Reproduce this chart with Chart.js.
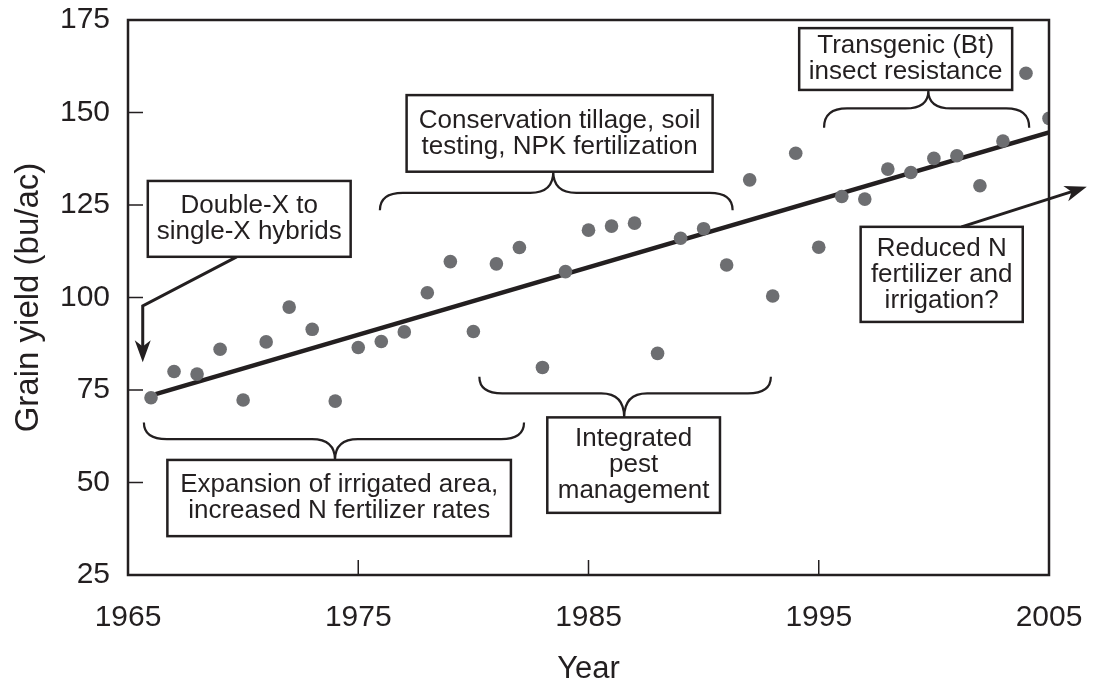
<!DOCTYPE html>
<html>
<head>
<meta charset="utf-8">
<title>Grain yield</title>
<script src="https://cdn.jsdelivr.net/npm/chart.js@4.4.1/dist/chart.umd.min.js"></script>
<style>
  html, body { margin: 0; padding: 0; background: #fff; }
</style>
</head>
<body>
<canvas id="yield-chart" width="1099" height="683"></canvas>
<script>
// data
const years = [1966, 1967, 1968, 1969, 1970, 1971, 1972, 1973, 1974, 1975,
  1976, 1977, 1978, 1979, 1980, 1981, 1982, 1983, 1984, 1985,
  1986, 1987, 1988, 1989, 1990, 1991, 1992, 1993, 1994, 1995,
  1996, 1997, 1998, 1999, 2000, 2001, 2002, 2003, 2004, 2005];
const yields = [72.9, 80.0, 79.3, 86.0, 72.3, 88.0, 97.4, 91.4, 72.0, 86.5,
  88.1, 90.7, 101.3, 109.7, 90.8, 109.1, 113.5, 81.1, 107.0, 118.2,
  119.3, 120.1, 84.9, 116.0, 118.6, 108.8, 131.8, 100.4, 139.0, 113.6,
  127.3, 126.6, 134.7, 133.8, 137.6, 138.3, 130.2, 142.3, 160.6, 148.4];
const trendYears = [1966.2, 2005];
const trendYields = [73.9, 144.6];
const xTicks = [1965, 1975, 1985, 1995, 2005];
const yTicks = [25, 50, 75, 100, 125, 150, 175];

const ink = "#231f20";
const dotColor = "#6d6e71";
const fontFamily = "'Liberation Sans', Arial, Helvetica, sans-serif";

// annotation boxes: [x1, yTop, x2, yBottom] in data units
const notes = [
  { lines: ["Double-X to", "single-X hybrids"], box: [1965.86, 131.5, 1974.67, 111.0] },
  { lines: ["Conservation tillage, soil", "testing, NPK fertilization"], box: [1977.1, 154.7, 1990.39, 134.0] },
  { lines: ["Transgenic (Bt)", "insect resistance"], box: [1994.15, 172.8, 2003.4, 156.1] },
  { lines: ["Reduced N", "fertilizer and", "irrigation?"], box: [1996.82, 119.1, 2003.86, 93.4] },
  { lines: ["Expansion of irrigated area,", "increased N fertilizer rates"], box: [1966.71, 56.1, 1981.63, 35.5] },
  { lines: ["Integrated", "pest", "management"], box: [1983.21, 67.6, 1990.71, 41.8] },
];

// braces: x1, x2, end y, middle y, tip x, tip y
const braces = [
  [1975.94, 1991.26, 123.6, 128.3, 1983.47, 134.0],
  [1995.23, 2004.14, 145.9, 151.1, 1999.76, 155.9],
  [1965.69, 1982.2, 66.2, 61.7, 1973.99, 56.1],
  [1980.26, 1992.92, 78.6, 74.1, 1986.55, 67.6],
];

// arrows: polyline, head at the last point
const arrows = [
  [[1969.72, 111.0], [1965.64, 97.7], [1965.64, 82.5]],
  [[2001.2, 119.1], [2006.64, 129.9]],
];

function drawBrace(ctx, x1, x2, yEnd, yMid, tipX, tipY) {
  const r = 23;
  ctx.beginPath();
  ctx.moveTo(x1, yEnd);
  ctx.quadraticCurveTo(x1, yMid, x1 + r, yMid);
  ctx.lineTo(tipX - r, yMid);
  ctx.quadraticCurveTo(tipX, yMid, tipX, tipY);
  ctx.quadraticCurveTo(tipX, yMid, tipX + r, yMid);
  ctx.lineTo(x2 - r, yMid);
  ctx.quadraticCurveTo(x2, yMid, x2, yEnd);
  ctx.stroke();
}

function drawArrow(ctx, pts) {
  const [ax, ay] = pts[pts.length - 2];
  const [bx, by] = pts[pts.length - 1];
  const ang = Math.atan2(by - ay, bx - ax);
  const c = Math.cos(ang), s = Math.sin(ang);
  const len = 22, half = 8;
  ctx.beginPath();
  ctx.moveTo(pts[0][0], pts[0][1]);
  for (let i = 1; i < pts.length - 1; i++) ctx.lineTo(pts[i][0], pts[i][1]);
  ctx.lineTo(bx - len * 0.6 * c, by - len * 0.6 * s);
  ctx.stroke();
  ctx.beginPath();
  ctx.moveTo(bx, by);
  ctx.lineTo(bx - len * c + half * s, by - len * s - half * c);
  ctx.lineTo(bx - len * 0.72 * c, by - len * 0.72 * s);
  ctx.lineTo(bx - len * c - half * s, by - len * s + half * c);
  ctx.closePath();
  ctx.fill();
}

const figurePlugin = {
  id: "figure",
  afterDraw(chart) {
    const { ctx, chartArea: a, scales: { x, y } } = chart;
    const px = (v) => x.getPixelForValue(v);
    const py = (v) => y.getPixelForValue(v);
    ctx.save();
    ctx.strokeStyle = ink;
    ctx.fillStyle = ink;

    // frame and inward ticks
    ctx.lineWidth = 2.5;
    ctx.strokeRect(a.left, a.top, a.right - a.left, a.bottom - a.top);
    ctx.lineWidth = 1.5;
    ctx.beginPath();
    yTicks.slice(1, -1).forEach((v) => {
      ctx.moveTo(a.left, py(v));
      ctx.lineTo(a.left + 15, py(v));
    });
    xTicks.slice(1, -1).forEach((v) => {
      ctx.moveTo(px(v), a.bottom);
      ctx.lineTo(px(v), a.bottom - 15);
    });
    ctx.stroke();

    // braces
    ctx.lineWidth = 2.2;
    braces.forEach((b) => drawBrace(ctx, px(b[0]), px(b[1]), py(b[2]), py(b[3]), px(b[4]), py(b[5])));

    // arrows
    ctx.lineWidth = 3;
    arrows.forEach((pts) => drawArrow(ctx, pts.map((p) => [px(p[0]), py(p[1])])));

    // boxes with text
    ctx.font = "26px " + fontFamily;
    ctx.textAlign = "center";
    ctx.textBaseline = "middle";
    notes.forEach((n) => {
      const x1 = px(n.box[0]), y1 = py(n.box[1]), x2 = px(n.box[2]), y2 = py(n.box[3]);
      ctx.fillStyle = "#fff";
      ctx.fillRect(x1, y1, x2 - x1, y2 - y1);
      ctx.lineWidth = 2.5;
      ctx.strokeRect(x1, y1, x2 - x1, y2 - y1);
      ctx.fillStyle = ink;
      const lh = 26;
      const cy = (y1 + y2) / 2 - ((n.lines.length - 1) * lh) / 2;
      n.lines.forEach((t, i) => ctx.fillText(t, (x1 + x2) / 2, cy + i * lh));
    });
    ctx.restore();
  },
};

const ctx = document.getElementById("yield-chart").getContext("2d");
const yieldChart = new Chart(ctx, {
  type: "scatter",
  data: {
    datasets: [
      {
        label: "Grain yield",
        data: years.map((yr, i) => ({ x: yr, y: yields[i] })),
        backgroundColor: dotColor,
        borderWidth: 0,
        pointRadius: 6.8,
      },
      {
        type: "line",
        label: "Trend",
        data: trendYears.map((yr, i) => ({ x: yr, y: trendYields[i] })),
        borderColor: ink,
        borderWidth: 4.5,
        pointRadius: 0,
        fill: false,
      },
    ],
  },
  options: {
    responsive: false,
    animation: false,
    events: [],
    layout: { padding: { left: 0, top: 20, right: 50, bottom: 0 } },
    plugins: { legend: { display: false }, tooltip: { enabled: false } },
    scales: {
      x: {
        type: "linear",
        min: 1965,
        max: 2005,
        afterBuildTicks: (s) => { s.ticks = xTicks.map((v) => ({ value: v })); },
        afterFit: (s) => { s.height = 108; s.paddingLeft = 0; s.paddingRight = 0; },
        grid: { display: false },
        border: { display: false },
        ticks: { color: ink, padding: 17, font: { family: fontFamily, size: 30 }, maxRotation: 0, callback: (v) => String(v) },
        title: { display: true, text: "Year", color: ink, padding: { top: 0, bottom: -5 }, font: { family: fontFamily, size: 31 } },
      },
      y: {
        min: 25,
        max: 175,
        afterBuildTicks: (s) => { s.ticks = yTicks.map((v) => ({ value: v })); },
        afterFit: (s) => { s.width = 128; s.paddingTop = 0; s.paddingBottom = 0; },
        grid: { display: false },
        border: { display: false },
        ticks: { color: ink, padding: 10, font: { family: fontFamily, size: 30 }, callback: (v) => String(v) },
        title: { display: true, text: "Grain yield (bu/ac)", color: ink, padding: { top: 9, bottom: 0 }, font: { family: fontFamily, size: 33 } },
      },
    },
  },
  plugins: [figurePlugin],
});
</script>
</body>
</html>
